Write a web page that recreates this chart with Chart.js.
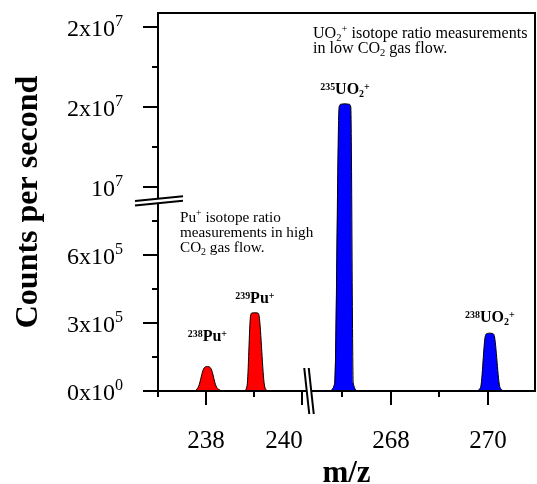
<!DOCTYPE html>
<html>
<head>
<meta charset="utf-8">
<script src="https://cdn.jsdelivr.net/npm/chart.js@4.4.1/dist/chart.umd.min.js"></script>
<style>
  html, body { margin: 0; padding: 0; background: #fff; }
  #wrap { width: 537px; height: 484px; position: relative; }
</style>
</head>
<body>
<div id="wrap"><canvas id="c" width="537" height="484"></canvas></div>
<script>
// ---------------- DATA ----------------
// Peak profiles: m/z values and counts per second
const pu238Mz       = [237.78, 237.85, 237.95, 238.03, 238.11, 238.21, 238.32];
const pu238Counts   = [0, 2.2e4, 9.7e4, 1.08e5, 9.7e4, 2.2e4, 0];

const pu239Mz       = [238.80, 238.86, 238.93, 238.96, 239.02, 239.08, 239.11, 239.22, 239.28];
const pu239Counts   = [0, 2.6e4, 3.3e5, 3.44e5, 3.45e5, 3.44e5, 3.3e5, 2.6e4, 0];

const u235o2Mz      = [266.73, 266.85, 266.94, 266.98, 267.06, 267.14, 267.18, 267.23, 267.33];
const u235o2Counts  = [0, 3.5e4, 2.0e7, 2.035e7, 2.04e7, 2.035e7, 2.0e7, 3.5e4, 0];

const u238o2Mz      = [269.75, 269.85, 269.95, 269.99, 270.04, 270.09, 270.13, 270.25, 270.35];
const u238o2Counts  = [0, 1.6e4, 2.45e5, 2.54e5, 2.55e5, 2.54e5, 2.45e5, 1.6e4, 0];

// Axis ticks
const xTickValues   = [237, 238, 239, 240, 267, 268, 269, 270];
const xTickLabels   = ['', '238', '', '240', '', '268', '', '270'];
const yTickValues   = [0, 1.5e5, 3e5, 4.5e5, 6e5, 7.5e5, 1e7, 1.5e7, 2e7, 2.5e7, 3e7];
const yTickMantissa = ['0x10', '', '3x10', '', '6x10', '', '10', '', '2x10', '', '2x10'];
const yTickExponent = ['0', '', '5', '', '5', '', '7', '', '7', '', '7'];

// Axis titles
const xTitle = 'm/z';
const yTitle = 'Counts per second';

// Peak labels (rich text runs) and their anchor (m/z, counts)
const peakLabelRuns = [
  [['238', 'sup'], ['Pu', ''], ['+', 'sup']],
  [['239', 'sup'], ['Pu', ''], ['+', 'sup']],
  [['235', 'sup'], ['UO', ''], ['2', 'sub'], ['+', 'sup']],
  [['238', 'sup'], ['UO', ''], ['2', 'sub'], ['+', 'sup']]
];
const peakLabelMz     = [238.03, 239.02, 267.06, 270.04];
const peakLabelCounts = [2.2e5, 3.88e5, 2.16e7, 3.04e5];

// Notes
const uo2NoteLines = [
  [['UO', ''], ['2', 'sub'], ['+', 'sup'], [' isotope ratio measurements', '']],
  [['in low CO', ''], ['2', 'sub'], [' gas flow.', '']]
];
const puNoteLines = [
  [['Pu', ''], ['+', 'sup'], [' isotope ratio', '']],
  [['measurements in high', '']],
  [['CO', ''], ['2', 'sub'], [' gas flow.', '']]
];

// ---------------- AXIS SEGMENTS (broken axes) ----------------
const AXIS_SEGMENTS = {
  x: [ { min: 237, max: 240.15, weight: 151 }, { min: 266.32, max: 270.97, weight: 226 } ],
  y: [ { min: 0, max: 8.38e5, weight: 190 }, { min: 8.25e6, max: 3.175e7, weight: 188 } ]
};

// Custom broken linear scale built on Chart.js LinearScale
class BrokenLinearScale extends Chart.LinearScale {
  _segs() { return AXIS_SEGMENTS[this.id]; }
  _decimalFor(value) {
    const segs = this._segs();
    const total = segs.reduce((s, g) => s + g.weight, 0);
    let acc = 0;
    for (let i = 0; i < segs.length; i++) {
      const g = segs[i];
      if (value <= g.max || i === segs.length - 1) {
        const v = Math.max(value, g.min);
        return (acc + g.weight * (v - g.min) / (g.max - g.min)) / total;
      }
      acc += g.weight;
    }
    return 0;
  }
  getPixelForValue(value) {
    if (value === null || value === undefined || isNaN(value)) return NaN;
    return this.getPixelForDecimal(this._decimalFor(value));
  }
  getValueForPixel(pixel) {
    const segs = this._segs();
    const total = segs.reduce((s, g) => s + g.weight, 0);
    const d = this.getDecimalForPixel(pixel) * total;
    let acc = 0;
    for (let i = 0; i < segs.length; i++) {
      const g = segs[i];
      if (d <= acc + g.weight || i === segs.length - 1) {
        return g.min + (d - acc) / g.weight * (g.max - g.min);
      }
      acc += g.weight;
    }
    return 0;
  }
}
BrokenLinearScale.id = 'brokenLinear';
BrokenLinearScale.defaults = Chart.LinearScale.defaults;
Chart.register(BrokenLinearScale);

// ---------------- DRAWING HELPERS ----------------
const SERIF = '"Liberation Serif", "Times New Roman", Times, serif';

function drawRich(ctx, runs, x, y, o) {
  const pieces = runs.map(([t, k]) => {
    const s = k === 'sup' ? o.size * o.supScale : k === 'sub' ? o.size * o.subScale : o.size;
    const dy = k === 'sup' ? -o.size * o.supRise : k === 'sub' ? o.size * o.subDrop : 0;
    const font = (o.bold ? 'bold ' : '') + s.toFixed(2) + 'px ' + SERIF;
    ctx.font = font;
    return { t, font, dy, w: ctx.measureText(t).width };
  });
  const total = pieces.reduce((s, p) => s + p.w, 0);
  let cx = o.align === 'center' ? x - total / 2 : o.align === 'right' ? x - total : x;
  ctx.textAlign = 'left';
  ctx.textBaseline = 'alphabetic';
  for (const p of pieces) {
    ctx.font = p.font;
    ctx.fillText(p.t, cx, y + p.dy);
    cx += p.w;
  }
}

function seg(ctx, x1, y1, x2, y2) {
  ctx.beginPath(); ctx.moveTo(x1, y1); ctx.lineTo(x2, y2); ctx.stroke();
}

const brokenAxesPlugin = {
  id: 'brokenAxes',
  afterDraw(chart) {
    const { ctx, chartArea: a, scales: { x, y } } = chart;
    ctx.save();
    ctx.fillStyle = '#000';
    ctx.strokeStyle = '#000';
    ctx.lineWidth = 2;
    ctx.lineCap = 'butt';

    // frame
    ctx.strokeRect(a.left, a.top, a.right - a.left, a.bottom - a.top);

    // y ticks + labels
    yTickValues.forEach((v, i) => {
      const py = Math.round(y.getPixelForValue(v));
      const major = yTickMantissa[i] !== '';
      seg(ctx, a.left - (major ? 15 : 6), py, a.left, py);
      if (major) {
        drawRich(ctx, [[yTickMantissa[i], ''], [yTickExponent[i], 'sup']], a.left - 35, py + 8.5,
          { size: 24, bold: false, align: 'right', supScale: 0.67, supRise: 0.4, subScale: 0.67, subDrop: 0.2 });
      }
    });

    // x ticks + labels
    const xLabelNudge = { '240': -18 };
    xTickValues.forEach((v, i) => {
      const px = Math.round(x.getPixelForValue(v));
      const major = xTickLabels[i] !== '';
      seg(ctx, px, a.bottom, px, a.bottom + (major ? 14 : 6));
      if (major) {
        ctx.font = '25px ' + SERIF;
        ctx.textAlign = 'center';
        ctx.textBaseline = 'alphabetic';
        ctx.fillText(xTickLabels[i], px + (xLabelNudge[xTickLabels[i]] || 0), 448);
      }
    });

    // y-axis break (between the two y segments)
    const by = y.getPixelForValue(AXIS_SEGMENTS.y[0].max);
    const bx0 = a.left - 23, bx1 = a.left + 25, slope = -0.1, gap = 4.5;
    ctx.beginPath();
    ctx.moveTo(bx0, by - slope * 23 - gap / 2);
    ctx.lineTo(bx1, by + slope * 25 - gap / 2);
    ctx.lineTo(bx1, by + slope * 25 + gap / 2);
    ctx.lineTo(bx0, by - slope * 23 + gap / 2);
    ctx.closePath();
    ctx.fillStyle = '#fff';
    ctx.fill();
    ctx.fillStyle = '#000';
    seg(ctx, bx0, by - slope * 23 - gap / 2, bx1, by + slope * 25 - gap / 2);
    seg(ctx, bx0, by - slope * 23 + gap / 2, bx1, by + slope * 25 + gap / 2);

    // x-axis break
    const bxx = x.getPixelForValue(AXIS_SEGMENTS.x[0].max);
    const top = a.bottom - 23, bot = a.bottom + 23, lean = 2.5, xg = 4.5;
    ctx.beginPath();
    ctx.moveTo(bxx - lean - xg / 2, top);
    ctx.lineTo(bxx - lean + xg / 2, top);
    ctx.lineTo(bxx + lean + xg / 2, bot);
    ctx.lineTo(bxx + lean - xg / 2, bot);
    ctx.closePath();
    ctx.fillStyle = '#fff';
    ctx.fill();
    ctx.fillStyle = '#000';
    seg(ctx, bxx - lean - xg / 2, top, bxx + lean - xg / 2, bot);
    seg(ctx, bxx - lean + xg / 2, top, bxx + lean + xg / 2, bot);

    // axis titles
    ctx.font = 'bold 32px ' + SERIF;
    ctx.textAlign = 'center';
    ctx.textBaseline = 'alphabetic';
    ctx.save();
    ctx.translate(37, (a.top + a.bottom) / 2);
    ctx.rotate(-Math.PI / 2);
    ctx.fillText(yTitle, 0, 0);
    ctx.restore();
    ctx.font = 'bold 31px ' + SERIF;
    ctx.fillText(xTitle, (a.left + a.right) / 2, 482);

    // peak labels
    peakLabelRuns.forEach((runs, i) => {
      drawRich(ctx, runs, x.getPixelForValue(peakLabelMz[i]), y.getPixelForValue(peakLabelCounts[i]),
        { size: 16, bold: true, align: 'center', supScale: 0.62, supRise: 0.26, subScale: 0.62, subDrop: 0.18 });
    });

    // notes
    const uoOpt = { size: 16.1, bold: false, align: 'left', supScale: 0.65, supRise: 0.36, subScale: 0.65, subDrop: 0.2 };
    const puOpt = { size: 15.2, bold: false, align: 'left', supScale: 0.65, supRise: 0.36, subScale: 0.65, subDrop: 0.2 };
    uo2NoteLines.forEach((runs, i) => drawRich(ctx, runs, a.left + 155, a.top + 25 + i * 15, uoOpt));
    puNoteLines.forEach((runs, i) => drawRich(ctx, runs, a.left + 22, a.top + 208.7 + i * 15, puOpt));

    ctx.restore();
  }
};

// ---------------- CHART ----------------
function peakDataset(mz, counts, color) {
  return {
    data: mz.map((m, i) => ({ x: m, y: counts[i] })),
    showLine: true,
    fill: 'origin',
    backgroundColor: color,
    borderColor: '#000',
    borderWidth: 1,
    pointRadius: 0,
    cubicInterpolationMode: 'monotone'
  };
}

new Chart(document.getElementById('c').getContext('2d'), {
  type: 'scatter',
  data: {
    datasets: [
      peakDataset(pu238Mz, pu238Counts, '#ff0000'),
      peakDataset(pu239Mz, pu239Counts, '#ff0000'),
      peakDataset(u235o2Mz, u235o2Counts, '#0000ff'),
      peakDataset(u238o2Mz, u238o2Counts, '#0000ff')
    ]
  },
  options: {
    responsive: false,
    animation: false,
    layout: { padding: { left: 158, top: 13, right: 2, bottom: 93 } },
    plugins: { legend: { display: false }, tooltip: { enabled: false } },
    scales: {
      x: { type: 'brokenLinear', min: 237, max: 270.97, display: false },
      y: { type: 'brokenLinear', min: 0, max: 3.175e7, display: false }
    }
  },
  plugins: [brokenAxesPlugin]
});
</script>
</body>
</html>
